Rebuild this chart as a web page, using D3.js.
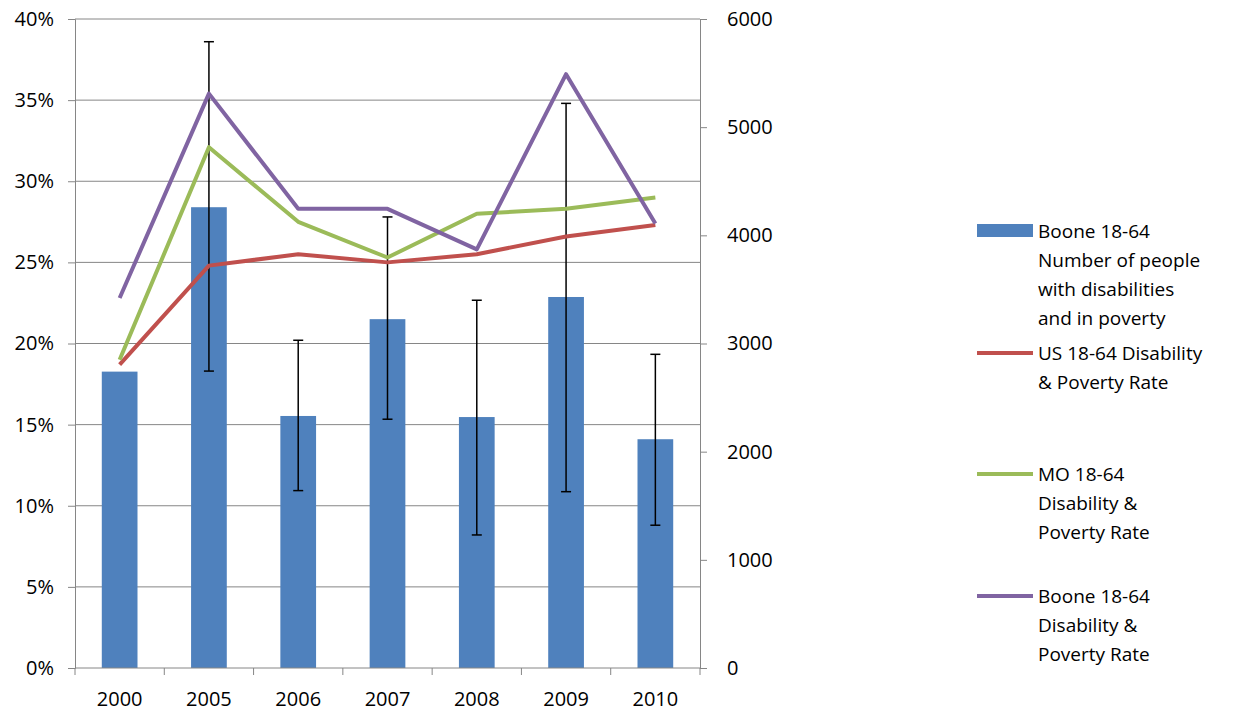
<!DOCTYPE html>
<html><head><meta charset="utf-8">
<script src="https://cdn.jsdelivr.net/npm/d3@7"></script>
<style>body{margin:0;background:#fff}text{font-family:"Open Sans","Liberation Sans",sans-serif}</style>
</head><body><svg id="c" width="1234" height="717"></svg>
<script>
const years = ["2000","2005","2006","2007","2008","2009","2010"];
const booneCount = [2740, 4260, 2330, 3225, 2320, 3430, 2115];
const errHigh = [null, 5790, 3030, 4170, 3400, 5220, 2900];
const errLow  = [null, 2745, 1640, 2300, 1230, 1630, 1320];
const usRate = [18.7, 24.8, 25.5, 25.0, 25.5, 26.6, 27.3];
const moRate = [19.0, 32.1, 27.5, 25.3, 28.0, 28.3, 29.0];
const booneRate = [22.8, 35.4, 28.3, 28.3, 25.8, 36.6, 27.4];
const leftTicks = [0,5,10,15,20,25,30,35,40];
const rightTicks = [0,1000,2000,3000,4000,5000,6000];

const svg = d3.select("#c");
const L = 75, R = 700, T = 19, B = 668;
const x = d3.scaleBand().domain(years).range([L, R]);
const yL = d3.scaleLinear().domain([0, 40]).range([B, T]);
const yR = d3.scaleLinear().domain([0, 6000]).range([B, T]);
const grid = "#868686";

// gridlines
svg.append("g").selectAll("line").data(leftTicks.slice(1)).join("line")
  .attr("x1", L).attr("x2", R).attr("y1", d => yL(d)).attr("y2", d => yL(d))
  .attr("stroke", grid).attr("stroke-width", 1);

// bars
svg.append("g").selectAll("rect").data(booneCount).join("rect")
  .attr("x", (d, i) => x(years[i]) + x.bandwidth() * 0.3)
  .attr("width", x.bandwidth() * 0.4)
  .attr("y", d => yR(d)).attr("height", d => B - yR(d))
  .attr("fill", "#4F81BD");

// error bars
const eb = svg.append("g").attr("stroke", "#000").attr("stroke-width", 1.5);
years.forEach((yr, i) => {
  if (errHigh[i] == null) return;
  const cx = x(yr) + x.bandwidth() / 2;
  eb.append("line").attr("x1", cx).attr("x2", cx).attr("y1", yR(errHigh[i])).attr("y2", yR(errLow[i]));
  [errHigh[i], errLow[i]].forEach(v => eb.append("line")
    .attr("x1", cx - 5).attr("x2", cx + 5).attr("y1", yR(v)).attr("y2", yR(v)));
});

// lines
const line = d3.line().x((d, i) => x(years[i]) + x.bandwidth() / 2).y(d => yL(d));
[[usRate, "#C0504D"], [moRate, "#9BBB59"], [booneRate, "#8064A2"]].forEach(([s, c]) =>
  svg.append("path").datum(s).attr("d", line).attr("fill", "none")
    .attr("stroke", c).attr("stroke-width", 4).attr("stroke-linejoin", "round"));

// axes
const axL = svg.append("g").attr("transform", `translate(${L},0)`)
  .call(d3.axisLeft(yL).tickValues(leftTicks).tickSize(7).tickPadding(14).tickFormat(d => d + "%"));
const axR = svg.append("g").attr("transform", `translate(${R},0)`)
  .call(d3.axisRight(yR).tickValues(rightTicks).tickSize(7).tickPadding(20).tickFormat(d => String(d)));
const axB = svg.append("g").attr("transform", `translate(0,${B})`)
  .call(d3.axisBottom(x).tickSize(0).tickPadding(24));
axB.selectAll(".tick").append("line")
  .attr("x1", -x.bandwidth() / 2).attr("x2", -x.bandwidth() / 2).attr("y2", 7).attr("stroke", grid);
axB.append("line").attr("x1", R).attr("x2", R).attr("y2", 7).attr("stroke", grid);
[axL, axR, axB].forEach(a => {
  a.selectAll("path.domain, .tick line").attr("stroke", grid);
  a.selectAll("text").attr("font-size", 20).attr("fill", "#000")
    .style("font-family", '"Open Sans","Liberation Sans",sans-serif');
});
axB.select("path.domain").attr("d", `M${L},0H${R}`);

// legend
const legend = [
  {type: "rect", color: "#4F81BD", y: 231, lines: ["Boone 18-64", "Number of people", "with disabilities", "and in poverty"]},
  {type: "line", color: "#C0504D", y: 353, lines: ["US 18-64 Disability", "& Poverty Rate"]},
  {type: "line", color: "#9BBB59", y: 474, lines: ["MO 18-64", "Disability &", "Poverty Rate"]},
  {type: "line", color: "#8064A2", y: 596, lines: ["Boone 18-64", "Disability &", "Poverty Rate"]}
];
legend.forEach(e => {
  if (e.type === "rect") svg.append("rect").attr("x", 977).attr("y", e.y - 7).attr("width", 56).attr("height", 13).attr("fill", e.color);
  else svg.append("line").attr("x1", 977).attr("x2", 1033).attr("y1", e.y).attr("y2", e.y).attr("stroke", e.color).attr("stroke-width", 4);
  svg.append("text").attr("x", 1038).attr("y", e.y + 7).attr("font-size", 19)
    .selectAll("tspan").data(e.lines).join("tspan")
    .attr("x", 1038).attr("dy", (d, i) => i ? 29 : 0).text(d => d);
});
</script></body></html>
